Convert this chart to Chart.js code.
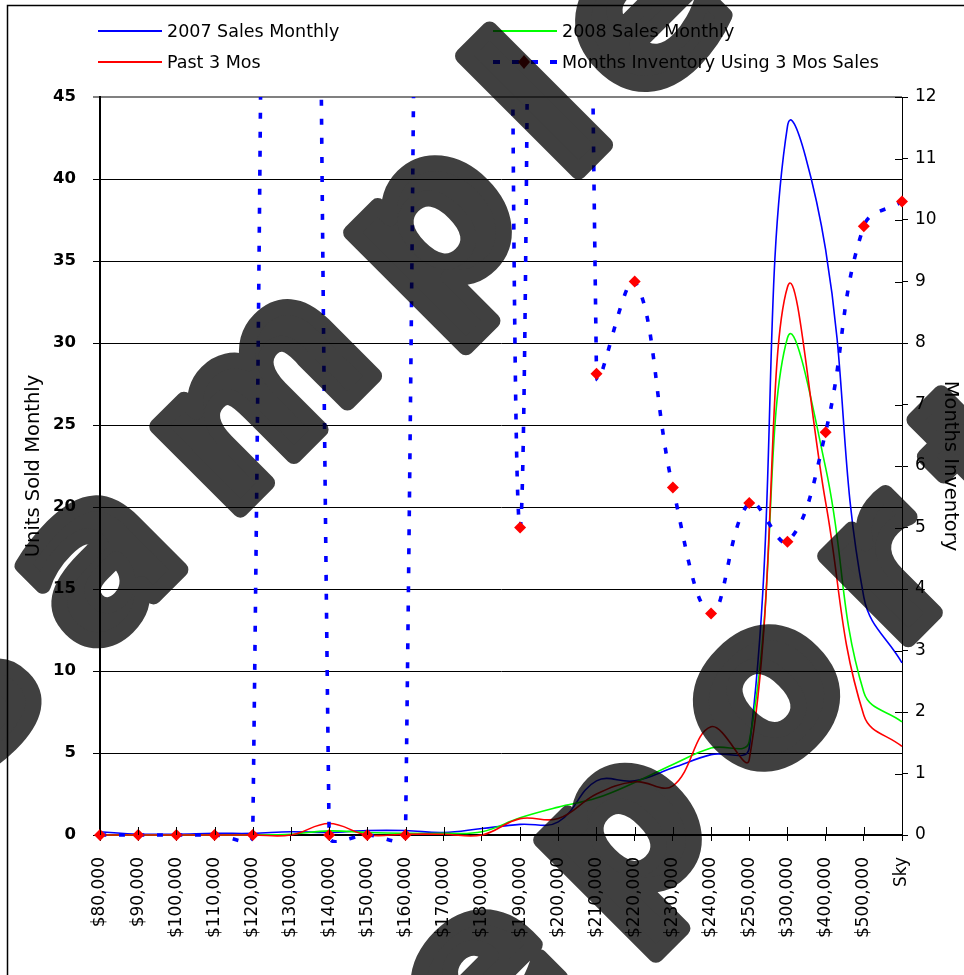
<!DOCTYPE html>
<html>
<head>
<meta charset="utf-8">
<script src="https://cdn.jsdelivr.net/npm/chart.js@4.4.0/dist/chart.umd.min.js"></script>
<style>
    html, body { margin: 0; padding: 0; background: #fff; }
    canvas { display: block; }
</style>
</head>
<body>
<canvas id="salesChartCanvas" width="964" height="975"></canvas>
<script>
// price bands on the x axis
const priceRanges = ["$80,000", "$90,000", "$100,000", "$110,000", "$120,000", "$130,000",
    "$140,000", "$150,000", "$160,000", "$170,000", "$180,000", "$190,000", "$200,000",
    "$210,000", "$220,000", "$230,000", "$240,000", "$250,000", "$300,000", "$400,000",
    "$500,000", "Sky"];

// units sold monthly (left axis)
const sales2007 = [0.2, 0.05, 0.05, 0.1, 0.1, 0.2, 0.15, 0.27, 0.27, 0.15, 0.4, 0.65,
    0.8, 3.3, 3.3, 4.1, 4.9, 5.3, 43.2, 35.7, 14.5, 10.5];
const sales2008 = [0, 0, 0, 0, 0, 0.05, 0.25, 0.15, 0.1, 0.1, 0.2, 1.05,
    1.7, 2.25, 3.2, 4.3, 5.3, 5.7, 30.3, 22.4, 8.7, 6.9];
const pastThreeMos = [0, 0, 0, 0, 0, 0, 0.7, 0, 0.05, 0.05, 0, 1.0,
    1.0, 2.5, 3.25, 3.0, 6.6, 4.6, 33.4, 20.3, 7.3, 5.4];

// months of inventory (right axis) - 100 = no sales in the band, runs off the top
const monthsInventory = [0, 0, 0, 0, 0, 100, 0, 0, 0, 100, 100, 5.0,
    100, 7.5, 9.0, 5.65, 3.6, 5.4, 4.77, 6.55, 9.9, 10.3];

const legendItems = [
    { text: "2007 Sales Monthly", color: "#0000ff" },
    { text: "2008 Sales Monthly", color: "#00ff00" },
    { text: "Past 3 Mos", color: "#ff0000" },
    { text: "Months Inventory Using 3 Mos Sales", color: "#0000ff", dashed: true }
];

Chart.defaults.font.family = "'DejaVu Sans', sans-serif";
Chart.defaults.color = "#000";

const edgeClip = { left: 12, top: 0, right: 12, bottom: 8 };

// spaced-out letters, fill + stroke to make them heavier
function drawSpaced(w, text, x, y, spacing, extra) {
    let pos = x;
    for (let i = 0; i < text.length; i++) {
        const ch = text[i];
        w.fillText(ch, pos, y);
        w.strokeText(ch, pos, y);
        pos += w.measureText(ch).width + spacing + (extra[i] || 0);
    }
}

// legend, frame, crossing ticks and the watermark are painted by hand
const decorPlugin = {
    id: "decor",
    afterDraw(chart) {
        const ctx = chart.ctx;
        const area = chart.chartArea;
        const xs = chart.scales.x;
        const yr = chart.scales.y1;
        ctx.save();

        // inner halves of tick marks
        ctx.strokeStyle = "#000";
        ctx.lineWidth = 1;
        ctx.beginPath();
        for (let i = 0; i < xs.ticks.length; i++) {
            const px = Math.round(xs.getPixelForTick(i)) + 0.5;
            ctx.moveTo(px, area.bottom - 8);
            ctx.lineTo(px, area.bottom);
        }
        for (let i = 0; i < yr.ticks.length; i++) {
            const py = Math.round(yr.getPixelForTick(i)) + 0.5;
            ctx.moveTo(area.right - 7, py);
            ctx.lineTo(area.right, py);
        }
        ctx.stroke();

        // legend (two columns)
        ctx.font = "17.5px 'DejaVu Sans'";
        ctx.textBaseline = "middle";
        ctx.fillStyle = "#000";
        legendItems.forEach((item, i) => {
            const x0 = i % 2 === 0 ? 98 : 493;
            const y0 = i < 2 ? 31 : 62;
            ctx.strokeStyle = item.color;
            ctx.lineWidth = item.dashed ? 4 : 2;
            ctx.setLineDash(item.dashed ? [7, 12] : []);
            ctx.beginPath();
            ctx.moveTo(x0, y0);
            ctx.lineTo(x0 + 64, y0);
            ctx.stroke();
            ctx.setLineDash([]);
            if (item.dashed) {
                ctx.fillStyle = "#800000";
                ctx.beginPath();
                ctx.moveTo(x0 + 31, y0 - 7);
                ctx.lineTo(x0 + 37, y0);
                ctx.lineTo(x0 + 31, y0 + 7);
                ctx.lineTo(x0 + 25, y0);
                ctx.closePath();
                ctx.fill();
                ctx.fillStyle = "#000";
            }
            ctx.fillText(item.text, x0 + 69, y0 + 1);
        });

        // outer frame
        ctx.strokeStyle = "#000";
        ctx.lineWidth = 1.5;
        ctx.strokeRect(7.5, 5.5, 1000, 1000);

        // "sample report" watermark, drawn flat then multiplied over the chart
        const wm = document.createElement("canvas");
        wm.width = chart.width;
        wm.height = chart.height;
        const w = wm.getContext("2d");
        w.fillStyle = "#404040";
        w.strokeStyle = "#404040";
        w.lineWidth = 16;
        w.lineJoin = "round";
        w.font = "bold 215px 'DejaVu Sans'";
        w.textAlign = "left";
        w.textBaseline = "alphabetic";
        w.translate(-36, 786);
        w.rotate(-Math.PI / 4);
        drawSpaced(w, "sample", 0, 0, 50, [0, 0, 0, 0, -22]);
        drawSpaced(w, "report", 0, 564, 50, []);
        ctx.globalCompositeOperation = "multiply";
        ctx.drawImage(wm, 0, 0, chart.width, chart.height);
        ctx.restore();
    }
};

const salesChart = new Chart(document.querySelector("#salesChartCanvas"), {
    type: "line",
    data: {
        labels: priceRanges,
        datasets: [
            {
                label: "2007 Sales Monthly",
                data: sales2007,
                yAxisID: "y",
                borderColor: "#0000ff",
                borderWidth: 1.6,
                pointRadius: 0,
                clip: edgeClip,
                order: 4
            },
            {
                label: "2008 Sales Monthly",
                data: sales2008,
                yAxisID: "y",
                borderColor: "#00ff00",
                borderWidth: 1.6,
                pointRadius: 0,
                clip: edgeClip,
                order: 3
            },
            {
                label: "Past 3 Mos",
                data: pastThreeMos,
                yAxisID: "y",
                borderColor: "#ff0000",
                borderWidth: 1.6,
                pointRadius: 0,
                clip: edgeClip,
                order: 2
            },
            {
                label: "Months Inventory Using 3 Mos Sales",
                data: monthsInventory,
                yAxisID: "y1",
                borderColor: "#0000ff",
                borderWidth: 3.6,
                borderDash: [6, 13],
                pointStyle: "rectRot",
                pointRadius: 6,
                pointBackgroundColor: "#ff0000",
                pointBorderColor: "#ff0000",
                pointBorderWidth: 0,
                clip: edgeClip,
                order: 1
            }
        ]
    },
    options: {
        responsive: false,
        animation: false,
        layout: { padding: { top: 97, left: 0, right: 0, bottom: 0 } },
        elements: {
            line: { tension: 0.4, capBezierPoints: false }
        },
        plugins: {
            legend: { display: false },
            tooltip: { enabled: false }
        },
        scales: {
            x: {
                offset: false,
                grid: { drawOnChartArea: false, tickLength: 6, color: "#000", lineWidth: 1 },
                border: { color: "#000", width: 2 },
                ticks: {
                    autoSkip: false,
                    minRotation: 90,
                    maxRotation: 90,
                    padding: 16,
                    font: { size: 17 }
                },
                afterFit: (scale) => { scale.height = 140; }
            },
            y: {
                position: "left",
                min: 0,
                max: 45,
                ticks: { stepSize: 5, padding: 17, font: { size: 16.5, weight: "bold" } },
                grid: {
                    color: (c) => c.tick && c.tick.value === 45 ? "#808080" : "#000",
                    lineWidth: (c) => c.tick && c.tick.value === 45 ? 2 : 1,
                    tickLength: 7
                },
                border: { color: "#000", width: 2 },
                title: {
                    display: true,
                    text: "Units Sold Monthly",
                    font: { size: 19.5 },
                    padding: { top: 22 }
                },
                afterFit: (scale) => { scale.width = 100; }
            },
            y1: {
                position: "right",
                min: 0,
                max: 12,
                ticks: { stepSize: 1, padding: 7, font: { size: 17 } },
                grid: { drawOnChartArea: false, tickLength: 6, color: "#000" },
                border: { color: "#000", width: 1 },
                title: {
                    display: true,
                    text: "Months Inventory",
                    font: { size: 19.5 },
                    padding: { top: 2 }
                },
                afterFit: (scale) => { scale.width = 62; }
            }
        }
    },
    plugins: [decorPlugin]
});
</script>
</body>
</html>
